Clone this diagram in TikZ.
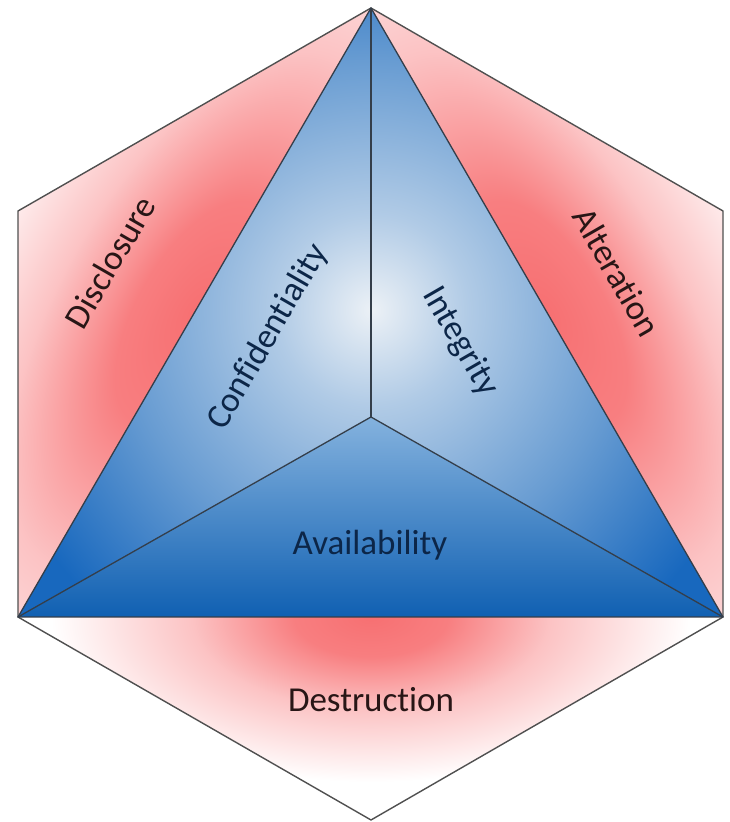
\documentclass[tikz,border=0pt]{standalone}
\usepackage{fontspec}
\setmainfont[Ligatures=NoCommon]{Carlito}
\definecolor{pale}{RGB}{236,241,246}
\definecolor{bmid}{RGB}{104,156,210}
\definecolor{bdeep}{RGB}{24,104,190}
\definecolor{btop}{RGB}{132,178,222}
\definecolor{bmidb}{RGB}{52,128,202}
\definecolor{bbot}{RGB}{16,96,178}
\definecolor{redc}{RGB}{247,112,114}
\definecolor{edgec}{RGB}{52,62,74}
\definecolor{hexc}{RGB}{80,80,80}
\definecolor{navytext}{RGB}{12,38,72}
\definecolor{redtext}{RGB}{40,22,22}
\pgfdeclareradialshading{blueglow}{\pgfpoint{0bp}{0bp}}{color(0bp)=(pale); color(5bp)=(pale!55!bmid); color(13bp)=(bmid); color(21bp)=(bdeep); color(50bp)=(bdeep)}
\pgfdeclareradialshading{redglow}{\pgfpoint{0bp}{0bp}}{color(0bp)=(redc); color(6bp)=(redc!90!white); color(14bp)=(redc!42!white); color(25bp)=(white); color(50bp)=(white)}
\begin{document}
\begin{tikzpicture}[x=1pt,y=1pt,
  edgeline/.style={draw=edgec,line width=1.3pt,line join=round},
  hexline/.style={draw=hexc,line width=1.4pt,line join=round},
  lbl/.style={font=\fontsize{35}{42}\selectfont,inner sep=0pt},
  bluelbl/.style={lbl,text=navytext},
  redlbl/.style={lbl,text=redtext}]
\useasboundingbox (0,0) rectangle (730,822);
\coordinate (T) at (371,814);
\coordinate (UL) at (18,611);
\coordinate (LL) at (18,205);
\coordinate (B) at (371,2);
\coordinate (LR) at (723,205);
\coordinate (UR) at (723,611);
\coordinate (I) at (371,405);
% red regions
\begin{scope}
\clip (T) -- (UL) -- (LL) -- cycle;
\shade[shading=redglow,transform canvas={shift={(194.5,509.5)},rotate=60}] (0,0) ellipse [x radius=520,y radius=240];
\end{scope}
\begin{scope}
\clip (T) -- (UR) -- (LR) -- cycle;
\shade[shading=redglow,transform canvas={shift={(547,509.5)},rotate=-60}] (0,0) ellipse [x radius=520,y radius=240];
\end{scope}
\begin{scope}
\clip (LL) -- (B) -- (LR) -- cycle;
\shade[shading=redglow] (371,205) ellipse [x radius=320,y radius=165];
\end{scope}
% blue faces
\begin{scope}
\clip (T) -- (LL) -- (I) -- (LR) -- cycle;
\shade[shading=blueglow] (372,512) circle (480);
\end{scope}
\shade[top color=btop,middle color=bmidb,bottom color=bbot] (LL) -- (I) -- (LR) -- cycle;
% outlines
\draw[hexline] (T) -- (UL) -- (LL) -- (B) -- (LR) -- (UR) -- cycle;
\draw[edgeline] (T) -- (LL) -- (LR) -- cycle;
\draw[edgeline] (T) -- (I);
\draw[edgeline] (LL) -- (I) -- (LR);
% labels
\node[redlbl,rotate=60] (disc) at (110,560) {Disclosure};
\node[redlbl,rotate=-60] (alt) at (617,550) {Alteration};
\node[redlbl] (dest) at (371,122) {Destruction};
\node[bluelbl,rotate=60] (conf) at (268,485) {Confidentiality};
\node[bluelbl,rotate=-60] (integ) at (460,480) {Integrity};
\node[bluelbl] (avail) at (370,277) {Availability};
\end{tikzpicture}
\end{document}
